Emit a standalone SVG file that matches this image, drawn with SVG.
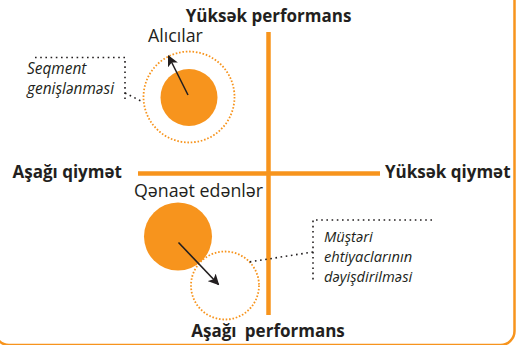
<svg xmlns="http://www.w3.org/2000/svg" width="520" height="345" viewBox="0 0 520 345">
  <style>
    .axis { stroke: #F7941D; stroke-width: 4.5; fill: none; }
    .frame { stroke: #F7941D; stroke-width: 2.5; fill: none; }
    .blob { fill: #F7941D; }
    .ring { fill: none; stroke: #F7941D; stroke-width: 1.8; stroke-dasharray: 1.6 1.8; }
    .dots { fill: none; stroke: #231F20; stroke-width: 1.6; stroke-dasharray: 1.6 3.6; }
    .move { stroke: #231F20; stroke-width: 1.6; fill: none; marker-end: url(#head); }
    .lbl { font-family: "Open Sans", "Noto Sans", sans-serif; fill: #231F20; }
    .bold { font-weight: 700; font-size: 17px; }
    .name { font-size: 17.8px; }
    .note { font-style: italic; }
  </style>
  <defs>
    <marker id="head" viewBox="0 0 10 10" refX="9" refY="5" markerWidth="11" markerHeight="11" markerUnits="userSpaceOnUse" orient="auto">
      <path d="M0,0 L10,5 L0,10 L2.5,5 Z" fill="#231F20"/>
    </marker>
  </defs>

  <!-- outer rounded frame -->
  <rect class="frame" x="-5" y="-20" width="519.5" height="365" rx="14"/>

  <!-- price / performance axes -->
  <g id="axes">
    <line class="axis" x1="268.5" y1="32" x2="268.5" y2="315"/>
    <line class="axis" x1="138" y1="173.5" x2="380" y2="173.5"/>
    <text class="lbl bold" x="268.5" y="21.5" text-anchor="middle">Yüksək performans</text>
    <text class="lbl bold" x="268" y="337" text-anchor="middle">Aşağı <tspan dx="4">performans</tspan></text>
    <text class="lbl bold" x="12.5" y="178">Aşağı qiymət</text>
    <text class="lbl bold" x="385" y="178">Yüksək qiymət</text>
  </g>

  <!-- buyers segment -->
  <g id="buyers">
    <text class="lbl name" x="148" y="42">Alıcılar</text>
    <circle class="ring" cx="189" cy="97" r="45.5"/>
    <circle class="blob" cx="189" cy="97.5" r="28.5"/>
  </g>

  <!-- satisfied customers segment -->
  <g id="satisfied">
    <text class="lbl name" x="134" y="197">Qənaət edənlər</text>
    <circle class="blob" cx="178" cy="236.5" r="34"/>
    <circle class="ring" cx="225" cy="285.5" r="34"/>
  </g>

  <!-- callout: segment expansion -->
  <g id="note-expansion">
    <text class="lbl note" x="27" y="74" font-size="15.4">Seqment</text>
    <text class="lbl note" x="27" y="93.5" font-size="15.4">genişlənməsi</text>
  </g>

  <!-- callout: changing customer needs -->
  <g id="note-needs">
    <text class="lbl note" x="324" y="242" font-size="14.7">Müştəri</text>
    <text class="lbl note" x="324" y="262" font-size="14.7">ehtiyaclarının</text>
    <text class="lbl note" x="324" y="282" font-size="14.7">dəyişdirilməsi</text>
  </g>

  <!-- connectors -->
  <g id="connectors">
    <line class="move" x1="188" y1="95" x2="168.5" y2="56"/>
    <line class="move" x1="178.5" y1="242.5" x2="218.5" y2="284.5"/>
    <path class="dots" d="M35,57.5 H125 V102"/>
    <path class="dots" d="M125,93 L143,102"/>
    <path class="dots" d="M432,220 H313 V282"/>
    <path class="dots" d="M313,252 L249,262"/>
  </g>
</svg>
